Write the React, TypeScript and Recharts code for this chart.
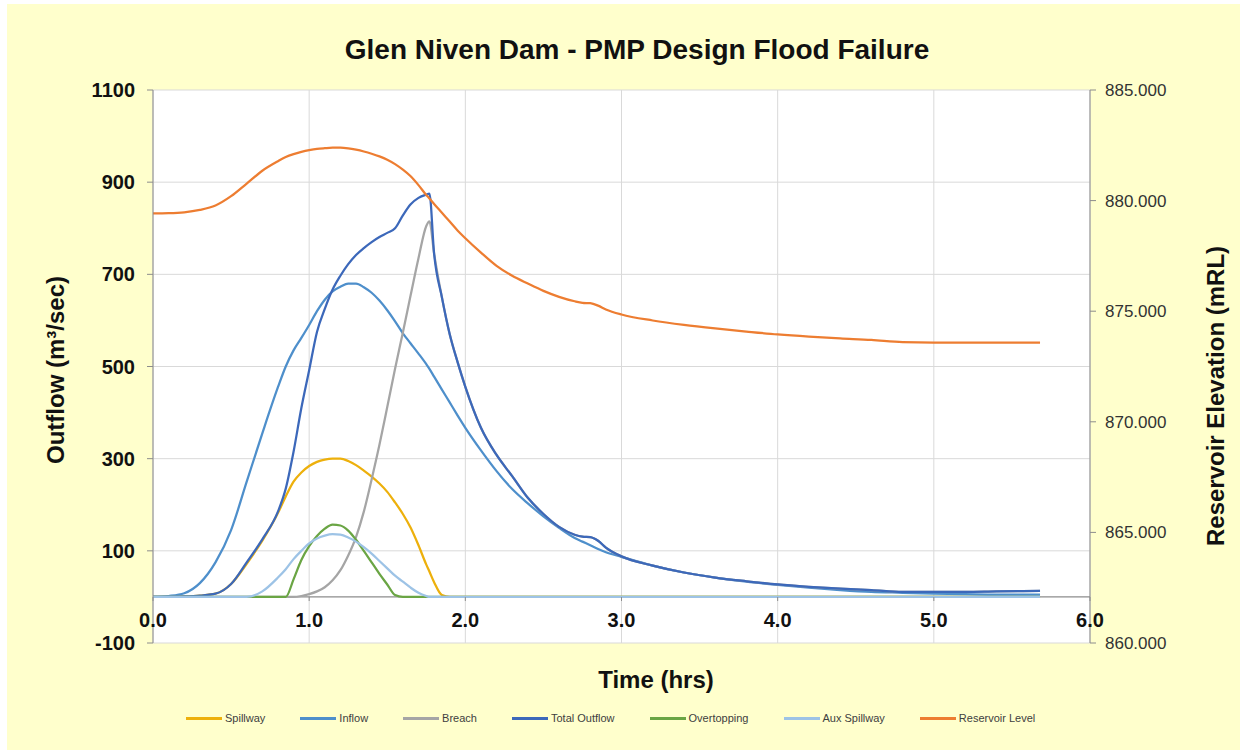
import React from "react";
import {
  LineChart,
  Line,
  XAxis,
  YAxis,
  CartesianGrid,
  ReferenceLine,
} from "recharts";

// time in hours
const time = [
  0, 0.1, 0.2, 0.3, 0.4, 0.5, 0.6, 0.7, 0.8, 0.85, 0.9, 0.95, 1.0, 1.05, 1.1,
  1.15, 1.2, 1.25, 1.3, 1.35, 1.4, 1.45, 1.5, 1.55, 1.6, 1.65, 1.7, 1.75, 1.77,
  1.8, 1.85, 1.9, 1.95, 2.0, 2.1, 2.2, 2.3, 2.4, 2.5, 2.6, 2.7, 2.75, 2.8, 2.85,
  2.9, 3.0, 3.2, 3.4, 3.6, 3.8, 4.0, 4.2, 4.4, 4.6, 4.8, 5.0, 5.2, 5.4, 5.68,
];

// flows in m3/sec
const spillway = [
  0, 0, 1, 3, 7, 28, 72, 122, 182, 218, 250, 270, 284, 293, 298, 300, 300, 295,
  286, 274, 261, 246, 228, 205, 180, 150, 112, 70, 55, 32, 4, 0, 0, 0, 0, 0, 0,
  0, 0, 0, 0, 0, 0, 0, 0, 0, 0, 0, 0, 0, 0, 0, 0, 0, 0, 0, 0, 0, 0,
];
const inflow = [
  0, 2, 8, 30, 75, 145, 250, 355, 455, 500, 535, 562, 590, 620, 645, 663, 673,
  680, 680, 672, 660, 643, 622, 598, 572, 550, 528, 505, 495, 478, 450, 422, 394,
  367, 318, 273, 234, 203, 175, 150, 128, 120, 112, 104, 97, 87, 68, 53, 42, 33,
  26, 20, 15, 11, 9, 7, 6, 5, 5,
];
const breach = [
  0, 0, 0, 0, 0, 0, 0, 0, 0, 0, 0, 2, 6, 12, 21, 36, 58, 90, 130, 185, 255, 330,
  412, 495, 574, 655, 735, 805, 815, 745, 650, 570, 510, 456, 367, 308, 262, 215,
  180, 152, 135, 131, 130, 122, 107, 88, 68, 53, 42, 34, 27, 22, 18, 15, 11, 11,
  11, 12, 13,
];
const totalOutflow = [
  0, 0, 1, 3, 7, 28, 75, 125, 185, 235, 315, 410, 492, 575, 625, 667, 697, 722,
  742, 757, 770, 781, 790, 800, 828, 852, 866, 873, 875, 745, 650, 570, 510, 456,
  367, 308, 262, 215, 180, 152, 135, 131, 130, 122, 107, 88, 68, 53, 42, 34, 27,
  22, 18, 15, 11, 11, 11, 12, 13,
];
const overtopping = [
  0, 0, 0, 0, 0, 0, 0, 0, 0, 0, 38, 80, 110, 132, 148, 157, 155, 144, 124, 100,
  75, 50, 27, 4, 0, 0, 0, 0, 0, 0, 0, 0, 0, 0, 0, 0, 0, 0, 0, 0, 0, 0, 0, 0, 0,
  0, 0, 0, 0, 0, 0, 0, 0, 0, 0, 0, 0, 0, 0,
];
const auxSpillway = [
  0, 0, 0, 0, 0, 0, 0, 12, 42, 60, 82, 100, 116, 127, 133, 136, 135, 129, 120,
  108, 94, 78, 62, 46, 33, 20, 9, 2, 0, 0, 0, 0, 0, 0, 0, 0, 0, 0, 0, 0, 0, 0, 0,
  0, 0, 0, 0, 0, 0, 0, 0, 0, 0, 0, 0, 0, 0, 0, 0,
];
// reservoir level in mRL
const reservoirLevel = [
  879.42, 879.43, 879.47, 879.58, 879.78, 880.2, 880.77, 881.35, 881.78, 881.97,
  882.1, 882.2, 882.28, 882.34, 882.37, 882.39, 882.39, 882.36, 882.3, 882.22,
  882.12, 882.0, 881.85, 881.65, 881.4, 881.1, 880.7, 880.25, 880.1, 879.85,
  879.45, 879.05, 878.65, 878.3, 877.65, 877.05, 876.6, 876.25, 875.92, 875.65,
  875.45, 875.38, 875.36, 875.25, 875.08, 874.85, 874.58, 874.38, 874.22,
  874.08, 873.95, 873.85, 873.77, 873.7, 873.6, 873.58, 873.58, 873.58, 873.58,
];

const xTicks = [0, 1, 2, 3, 4, 5, 6];
const flowTicks = [-100, 100, 300, 500, 700, 900, 1100];
const levelTicks = [860, 865, 870, 875, 880, 885];

const data = time.map((t, i) => ({
  t,
  spillway: spillway[i],
  inflow: inflow[i],
  breach: breach[i],
  total: totalOutflow[i],
  overtop: overtopping[i],
  aux: auxSpillway[i],
  level: reservoirLevel[i],
}));

const SERIES = [
  { key: "spillway", name: "Spillway", color: "#EDB00C", axis: "left" },
  { key: "inflow", name: "Inflow", color: "#4E8FCB", axis: "left" },
  { key: "breach", name: "Breach", color: "#A5A5A5", axis: "left" },
  { key: "total", name: "Total Outflow", color: "#3C68BA", axis: "left" },
  { key: "overtop", name: "Overtopping", color: "#6AA544", axis: "left" },
  { key: "aux", name: "Aux Spillway", color: "#9DC3E6", axis: "left" },
  { key: "level", name: "Reservoir Level", color: "#ED7D31", axis: "right" },
];

const FONT = "'Liberation Sans', Arial, sans-serif";
const AXIS_GRAY = "#8c8c8c";

function XTick({ x, y, payload }: any) {
  return (
    <g>
      <line x1={x} x2={x} y1={y - 46} y2={y - 42} stroke={AXIS_GRAY} />
      <text
        x={x}
        y={y - 23}
        dy="0.355em"
        textAnchor="middle"
        fontFamily={FONT}
        fontWeight="bold"
        fontSize={20}
        fill="#111"
      >
        {Number(payload.value).toFixed(1)}
      </text>
    </g>
  );
}

export default function App() {
  return (
    <div
      style={{
        position: "absolute",
        left: 0,
        top: 0,
        width: 1247,
        height: 755,
        background: "#ffffff",
        fontFamily: FONT,
      }}
    >
      <div
        style={{
          position: "absolute",
          left: 7,
          top: 4,
          width: 1233,
          height: 746,
          background: "#FFFFCC",
        }}
      >
        <LineChart
          width={1233}
          height={746}
          data={data}
          margin={{ top: 86, right: 0, bottom: 77, left: 0 }}
        >
          <CartesianGrid
            yAxisId="left"
            stroke="#d9d9d9"
            fill="#ffffff"
            fillOpacity={1}
          />
          <XAxis
            type="number"
            dataKey="t"
            domain={[0, 6]}
            ticks={xTicks}
            height={30}
            axisLine={false}
            tickLine={false}
            tickSize={0}
            tickMargin={0}
            tick={<XTick />}
          />
          <YAxis
            yAxisId="left"
            domain={[-100, 1100]}
            ticks={flowTicks}
            width={146}
            axisLine={{ stroke: AXIS_GRAY }}
            tickLine={{ stroke: AXIS_GRAY }}
            tickSize={6}
            tickMargin={12}
            tick={{ fontFamily: FONT, fontWeight: "bold", fontSize: 20, fill: "#111" }}
          />
          <YAxis
            yAxisId="right"
            orientation="right"
            domain={[860, 885]}
            ticks={levelTicks}
            width={150}
            axisLine={{ stroke: AXIS_GRAY }}
            tickLine={{ stroke: AXIS_GRAY }}
            tickSize={6}
            tickMargin={9}
            tickFormatter={(v) => Number(v).toFixed(3)}
            tick={{ fontFamily: FONT, fontSize: 17, fill: "#333" }}
          />
          <ReferenceLine yAxisId="left" y={0} stroke={AXIS_GRAY} strokeWidth={1.2} />
          {SERIES.map((s) => (
            <Line
              key={s.key}
              yAxisId={s.axis}
              type="monotone"
              dataKey={s.key}
              name={s.name}
              stroke={s.color}
              strokeWidth={2.25}
              dot={false}
              isAnimationActive={false}
            />
          ))}
        </LineChart>
      </div>

      <div
        style={{
          position: "absolute",
          left: 287,
          top: 34,
          width: 700,
          textAlign: "center",
          fontSize: 28,
          fontWeight: "bold",
          lineHeight: "32px",
          color: "#111",
          whiteSpace: "nowrap",
        }}
      >
        Glen Niven Dam - PMP Design Flood Failure
      </div>

      <div
        style={{
          position: "absolute",
          left: 56,
          top: 370,
          transform: "translate(-50%, -50%) rotate(-90deg)",
          fontSize: 24,
          fontWeight: "bold",
          color: "#111",
          whiteSpace: "nowrap",
        }}
      >
        Outflow (m³/sec)
      </div>

      <div
        style={{
          position: "absolute",
          left: 1216,
          top: 396,
          transform: "translate(-50%, -50%) rotate(-90deg)",
          fontSize: 24,
          fontWeight: "bold",
          color: "#111",
          whiteSpace: "nowrap",
        }}
      >
        Reservoir Elevation (mRL)
      </div>

      <div
        style={{
          position: "absolute",
          left: 656,
          top: 680,
          transform: "translate(-50%, -50%)",
          fontSize: 24,
          fontWeight: "bold",
          color: "#111",
          whiteSpace: "nowrap",
        }}
      >
        Time (hrs)
      </div>

      <div
        style={{
          position: "absolute",
          left: 186,
          top: 711,
          height: 14,
          display: "flex",
          alignItems: "center",
          gap: 35,
          fontSize: 11,
          color: "#404040",
          whiteSpace: "nowrap",
        }}
      >
        {SERIES.map((s) => (
          <div key={s.key} style={{ display: "flex", alignItems: "center" }}>
            <span
              style={{
                display: "inline-block",
                width: 36,
                height: 3,
                background: s.color,
                marginRight: 3,
              }}
            />
            <span>{s.name}</span>
          </div>
        ))}
      </div>
    </div>
  );
}
